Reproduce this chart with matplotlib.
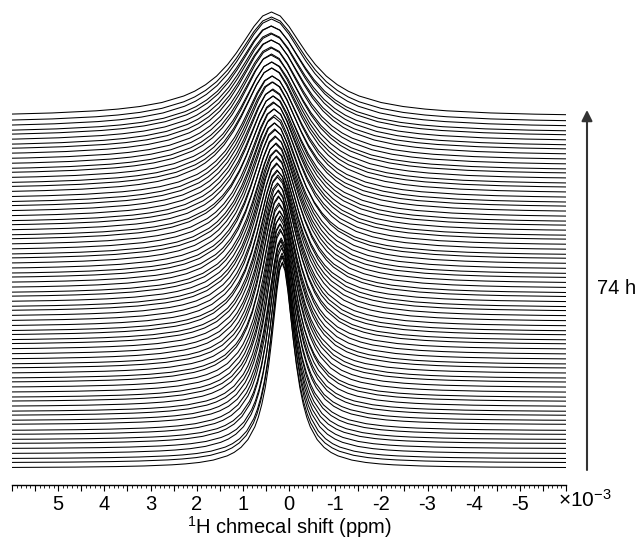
import numpy as np
import matplotlib
matplotlib.use("Agg")
import matplotlib.pyplot as plt
from matplotlib.ticker import MultipleLocator, FuncFormatter

plt.rcParams["font.family"] = ["Liberation Sans", "DejaVu Sans"]
plt.rcParams["mathtext.fontset"] = "custom"
plt.rcParams["mathtext.rm"] = "Liberation Sans"
plt.rcParams["mathtext.it"] = "Liberation Sans:italic"

# half lineshape (offset in half-widths, relative height)
profile_u = [0, 0.2, 0.4, 0.6, 0.8, 1.0, 1.25, 1.5, 1.75, 2.0, 2.5, 3, 3.5, 4,
             5, 6, 7, 8, 10, 12, 15, 20, 25, 32]
profile_v = [1, 0.962, 0.862, 0.735, 0.610, 0.5, 0.39, 0.308, 0.246, 0.2, 0.138,
             0.1, 0.0755, 0.0588, 0.0385, 0.027, 0.02, 0.0154, 0.0099, 0.0069,
             0.0044, 0.0025, 0.0016, 0.001]

# one spectrum per hour, 0 h (bottom) to 74 h (top)
baseline = [17, 22, 26, 31, 36, 41, 45, 50, 54, 60, 64, 69, 73, 78, 83, 87, 92, 97,
            102, 106, 111, 116, 120, 125, 130, 135, 140, 144, 149, 153, 158, 163,
            168, 173, 177, 182, 187, 191, 196, 201, 206, 210, 215, 220, 225, 229,
            234, 239, 244, 248, 253, 258, 262, 267, 272, 277, 281, 286, 291, 296,
            300, 305, 310, 314, 319, 324, 329, 334, 338, 343, 348, 352, 357, 362, 368]
height = [206, 200, 203, 198, 196, 199, 192, 195, 190, 187, 192, 185, 188, 183,
          186, 180, 182, 177, 180, 174, 178, 172, 175, 169, 171, 167, 170, 164,
          166, 161, 164, 158, 161, 155, 158, 153, 155, 150, 153, 147, 150, 145,
          147, 142, 145, 139, 142, 137, 139, 134, 136, 131, 134, 128, 131, 126,
          128, 123, 126, 121, 123, 118, 121, 116, 118, 114, 116, 111, 113, 109,
          111, 107, 109, 106, 105]
width = [0.30, 0.31, 0.31, 0.33, 0.33, 0.34, 0.35, 0.36, 0.37, 0.38, 0.38, 0.40,
         0.40, 0.42, 0.42, 0.43, 0.44, 0.45, 0.46, 0.47, 0.47, 0.49, 0.49, 0.51,
         0.51, 0.52, 0.53, 0.54, 0.55, 0.56, 0.56, 0.58, 0.58, 0.60, 0.60, 0.61,
         0.62, 0.63, 0.64, 0.65, 0.65, 0.67, 0.67, 0.69, 0.69, 0.70, 0.71, 0.72,
         0.73, 0.74, 0.74, 0.76, 0.76, 0.78, 0.78, 0.79, 0.80, 0.81, 0.82, 0.83,
         0.83, 0.85, 0.85, 0.87, 0.87, 0.88, 0.89, 0.90, 0.91, 0.92, 0.92, 0.93,
         0.94, 0.95, 0.95]
center = [0.14, 0.15, 0.14, 0.16, 0.15, 0.17, 0.16, 0.17, 0.18, 0.17, 0.19, 0.18,
          0.19, 0.20, 0.19, 0.21, 0.20, 0.21, 0.22, 0.21, 0.23, 0.22, 0.23, 0.24,
          0.23, 0.25, 0.24, 0.25, 0.26, 0.25, 0.27, 0.26, 0.27, 0.28, 0.27, 0.29,
          0.28, 0.29, 0.30, 0.29, 0.31, 0.30, 0.31, 0.32, 0.31, 0.33, 0.32, 0.33,
          0.34, 0.33, 0.35, 0.34, 0.35, 0.36, 0.35, 0.37, 0.36, 0.37, 0.38, 0.37,
          0.38, 0.37, 0.38, 0.39, 0.38, 0.39, 0.38, 0.39, 0.38, 0.39, 0.38, 0.39,
          0.38, 0.38, 0.38]

u = np.array(profile_u[::-1] + profile_u[1:]) * np.r_[-np.ones(len(profile_u)), np.ones(len(profile_u) - 1)]
v = np.array(profile_v[::-1] + profile_v[1:])

fig = plt.figure(figsize=(6.39, 5.41), dpi=100)
ax = fig.add_axes([12 / 639, 56 / 541, 554 / 639, 480 / 541])

for b, h, w, c in zip(baseline, height, width, center):
    ax.plot(c + w * u, b + h * v, color="black", lw=0.75)

ax.set_xlim(6, -6)
ax.set_ylim(0, 480)
for s in ["left", "top", "right"]:
    ax.spines[s].set_visible(False)
ax.spines["bottom"].set_linewidth(1.0)
ax.set_yticks([])
ax.xaxis.set_major_locator(MultipleLocator(0.5))
ax.xaxis.set_minor_locator(MultipleLocator(0.1))
ax.xaxis.set_major_formatter(FuncFormatter(
    lambda x, p: "%d" % round(x) if abs(x - round(x)) < 1e-6 and abs(x) < 5.5 else ""))
ax.tick_params(axis="x", which="major", length=4, width=0.8, labelsize=14.5, pad=3)
ax.tick_params(axis="x", which="minor", length=2, width=0.6)
ax.set_xlabel(r"$^{1}$H chmecal shift (ppm)", fontsize=14.5, labelpad=0)

fig.text(558 / 639, 1 - 500 / 541, r"$\times10^{-3}$", fontsize=15, va="center", ha="left")

ax.annotate("", xy=(587, 541 - 110), xytext=(587, 541 - 470),
            xycoords="figure pixels", textcoords="figure pixels",
            arrowprops=dict(arrowstyle="-|>,head_length=0.4,head_width=0.2",
                            color="#333333", lw=1.5, mutation_scale=16,
                            shrinkA=0, shrinkB=0))
fig.text(597 / 639, 1 - 288 / 541, "74 h", fontsize=14.5, va="center", ha="left")

fig.savefig("out.png", dpi=100)
